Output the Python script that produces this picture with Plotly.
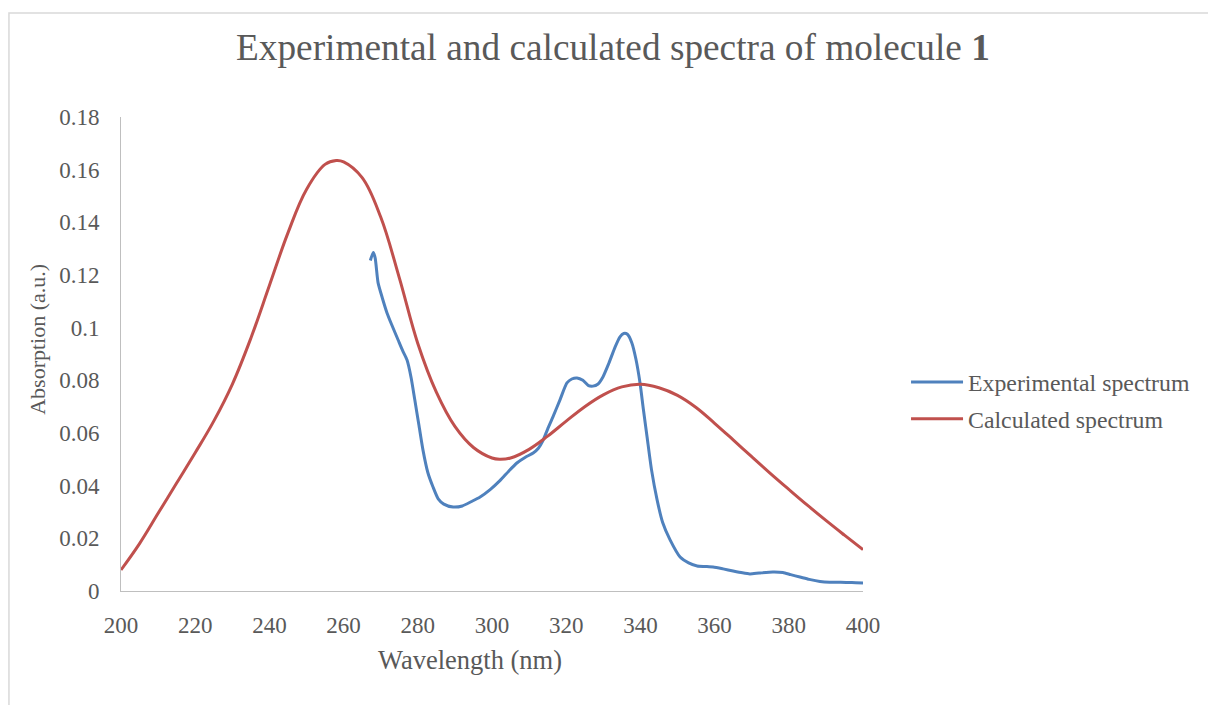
import plotly.graph_objects as go

# Calculated spectrum (nm, a.u.)
calc_x = [200, 205, 210, 215, 220, 225, 230, 235, 240, 245, 250, 255, 258, 260, 265, 270,
          275, 280, 285, 290, 295, 300, 302, 305, 310, 315, 320, 325, 330, 335, 340, 345,
          350, 355, 360, 365, 370, 375, 380, 385, 390, 395, 400]
calc_y = [0.0080, 0.0180, 0.0295, 0.0410, 0.0525, 0.0645, 0.0785, 0.0960, 0.1160, 0.1360,
          0.1525, 0.1620, 0.1635, 0.1630, 0.1570, 0.1420, 0.1190, 0.0940, 0.0755, 0.0625,
          0.0545, 0.0505, 0.0500, 0.0505, 0.0538, 0.0588, 0.0645, 0.0700, 0.0745, 0.0775,
          0.0785, 0.0772, 0.0743, 0.0697, 0.0637, 0.0574, 0.0510, 0.0447, 0.0386, 0.0326,
          0.0268, 0.0212, 0.0157]

# Experimental spectrum (nm, a.u.)
exp_x = [267.2, 268.0, 268.5, 269.3, 270.5, 271.7, 273.0, 274.7, 276.0, 277.1, 278.2, 279.2,
         280.3, 281.4, 282.7, 284.1, 285.5, 287.0, 289.5, 292.0, 294.5, 296.8, 299.5, 302.2,
         304.5, 306.7, 309.0, 311.1, 312.5, 313.7, 315.0, 316.4, 318.3, 320.2, 321.5, 322.9,
         324.5, 326.0, 327.2, 328.5, 329.9, 331.5, 333.2, 334.5, 335.5, 336.5, 337.7, 338.8,
         339.9, 340.8, 341.8, 343.0, 344.5, 346.0, 348.0, 350.7, 353.0, 355.3, 357.5, 359.6,
         362.3, 365.0, 367.5, 369.5, 372.0, 375.7, 378.4, 380.5, 383.0, 385.5, 388.4, 391.0,
         394.0, 397.0, 400.0]
exp_y = [0.1255, 0.1285, 0.1265, 0.117, 0.111, 0.1056, 0.101, 0.0953, 0.091, 0.0877, 0.081,
         0.0725, 0.063, 0.0535, 0.045, 0.0395, 0.035, 0.033, 0.0319, 0.0323, 0.034, 0.0357,
         0.0385, 0.042, 0.0455, 0.0486, 0.0508, 0.0524, 0.0542, 0.0570, 0.0615, 0.066, 0.0725,
         0.079, 0.0805, 0.0809, 0.080, 0.078, 0.0778, 0.0785, 0.0813, 0.0865, 0.0927, 0.0965,
         0.0978, 0.0975, 0.0942, 0.088, 0.079, 0.069, 0.0585, 0.046, 0.0346, 0.026, 0.0194,
         0.0129, 0.0107, 0.0095, 0.0093, 0.0091, 0.0084, 0.0076, 0.0069, 0.0065, 0.0068,
         0.0072, 0.0070, 0.0062, 0.0053, 0.0044, 0.0036, 0.0033, 0.0033, 0.0032, 0.003]

x_ticks = [200, 220, 240, 260, 280, 300, 320, 340, 360, 380, 400]
y_ticks = [0, 0.02, 0.04, 0.06, 0.08, 0.1, 0.12, 0.14, 0.16, 0.18]
y_labels = ["0", "0.02", "0.04", "0.06", "0.08", "0.1", "0.12", "0.14", "0.16", "0.18"]

FONT = "Liberation Serif, Times New Roman, serif"
TXT = "#595959"

fig = go.Figure()
fig.add_trace(go.Scatter(x=exp_x, y=exp_y, mode="lines", name="Experimental spectrum",
                         line=dict(color="#4F81BD", width=3, shape="spline", smoothing=0.6),
                         legendgroup="a"))
fig.add_trace(go.Scatter(x=calc_x, y=calc_y, mode="lines", name="Calculated spectrum",
                         line=dict(color="#C0504D", width=3, shape="spline", smoothing=1.1),
                         legendgroup="b"))

fig.update_layout(
    width=1208, height=705,
    margin=dict(l=121, r=345, t=117, b=114),
    paper_bgcolor="white", plot_bgcolor="white",
    font=dict(family=FONT, color=TXT, size=23),
    showlegend=True,
    legend=dict(x=1.058, y=0.402, xanchor="left", yanchor="middle",
                font=dict(family=FONT, size=23.8, color=TXT),
                itemwidth=52, tracegroupgap=3, traceorder="grouped",
                bgcolor="rgba(0,0,0,0)"),
    xaxis=dict(range=[200, 400], tickvals=x_ticks, showgrid=False, zeroline=False,
               showline=True, linecolor="#BFBFBF", linewidth=1, ticks="",
               ticklabelstandoff=13, tickfont=dict(size=23, color=TXT, family=FONT)),
    yaxis=dict(range=[0, 0.18], tickvals=y_ticks, ticktext=y_labels, showgrid=False,
               zeroline=False, showline=True, linecolor="#BFBFBF", linewidth=1, ticks="",
               ticklabelstandoff=16, tickfont=dict(size=23, color=TXT, family=FONT)),
    annotations=[
        dict(text="Experimental and calculated spectra of molecule <b>1</b>", xref="paper",
             yref="paper", x=0.663, y=1.1456, xanchor="center", yanchor="middle",
             showarrow=False, font=dict(size=37.3, color=TXT, family=FONT)),
        dict(text="Wavelength (nm)", xref="paper", yref="paper", x=0.4704, y=-0.1456,
             xanchor="center", yanchor="middle", showarrow=False,
             font=dict(size=26.5, color=TXT, family=FONT)),
        dict(text="Absorption (a.u.)", xref="paper", yref="paper", x=-0.1119, y=0.532,
             xanchor="center", yanchor="middle", textangle=-90, showarrow=False,
             font=dict(size=22, color=TXT, family=FONT)),
    ],
    shapes=[dict(type="rect", xref="paper", yref="paper", x0=-0.151, y0=-0.35, x1=1.6,
                 y1=1.2194, line=dict(color="#D9D9D9", width=1.5), layer="below")],
)

fig.write_html("out.html")
